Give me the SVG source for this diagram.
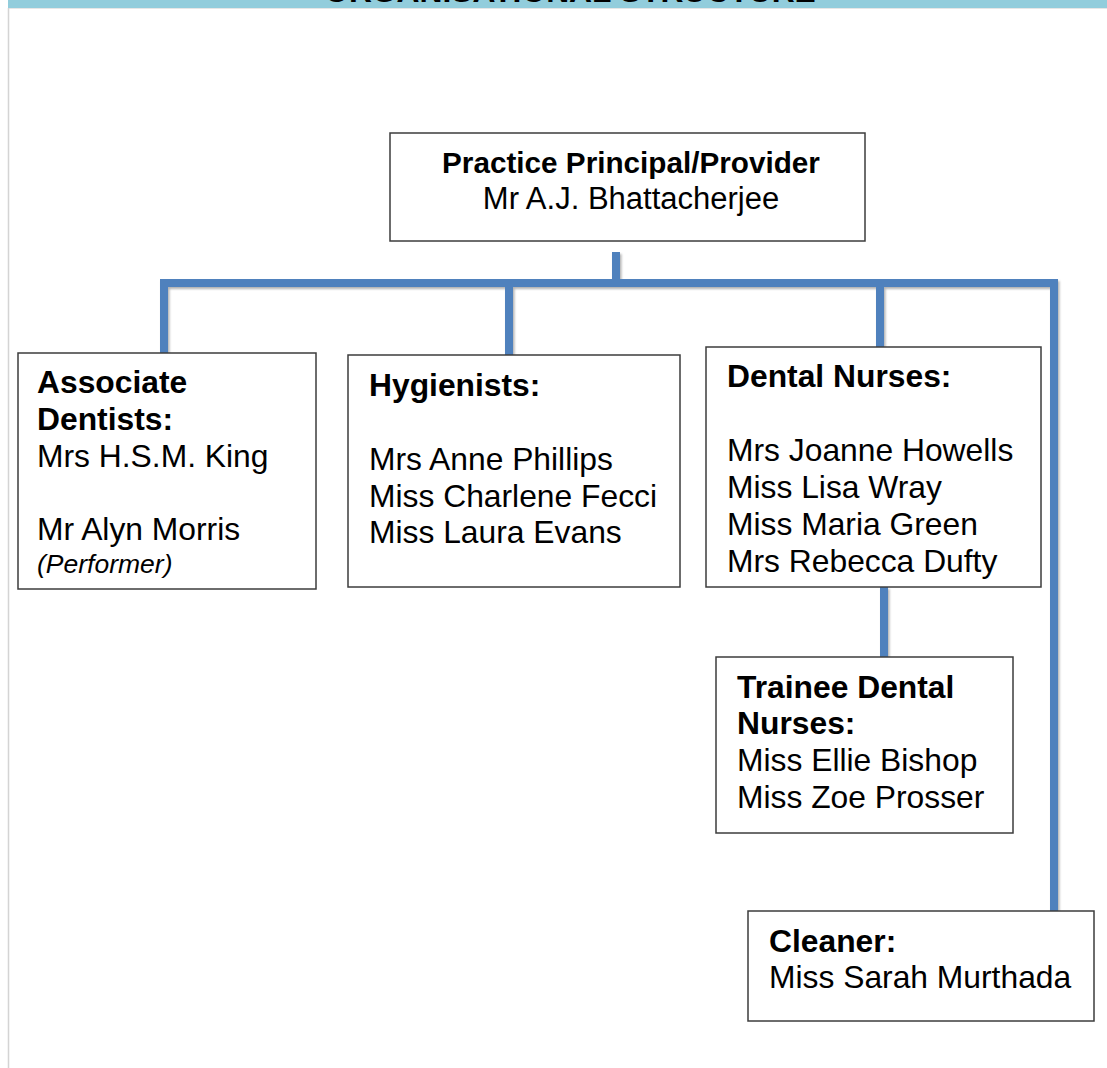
<svg xmlns="http://www.w3.org/2000/svg" width="1107" height="1068" viewBox="0 0 1107 1068">
<style>
text{font-family:"Liberation Sans",Arial,sans-serif;font-size:31.8px;fill:#000}
.b{font-weight:bold}
.i{font-style:italic;font-size:26.5px}
.tb{font-weight:bold;font-size:29.7px}
.tr{font-size:31px}
.box{fill:#fff;stroke:#3c3c3c;stroke-width:1.5}
.con{fill:none;stroke:#4f81bd;stroke-width:8;stroke-linecap:butt;stroke-linejoin:miter}
</style>
<defs>
<filter id="sh" x="-5%" y="-5%" width="110%" height="110%">
<feDropShadow dx="1.5" dy="2" stdDeviation="1.2" flood-color="#000" flood-opacity="0.3"/>
</filter>
</defs>
<rect x="0" y="0" width="1107" height="1068" fill="#fff"/>
<g id="banner">
<rect x="8" y="0" width="1099" height="8" fill="#92cddc"/>
<line x1="8" y1="8.5" x2="1107" y2="8.5" stroke="#e6e6e6" stroke-width="1"/>
<text x="570" y="2" class="b" text-anchor="middle">ORGANISATIONAL STRUCTURE</text>
</g>
<line x1="8.5" y1="8" x2="8.5" y2="1068" stroke="#d4d4d4" stroke-width="1.5"/>
<g id="connectors" filter="url(#sh)">
<path class="con" d="M616 252 V283"/>
<path class="con" d="M164 353 V283 H1054 V911"/>
<path class="con" d="M509 283 V355"/>
<path class="con" d="M880 283 V347"/>
<path class="con" d="M884 587 V657"/>
</g>
<g id="principal">
<rect class="box" x="390" y="133" width="475" height="108"/>
<text x="631" y="173" class="tb" text-anchor="middle">Practice Principal/Provider</text>
<text x="631" y="209" class="tr" text-anchor="middle">Mr A.J. Bhattacherjee</text>
</g>
<g id="associates">
<rect class="box" x="18" y="353" width="298" height="236"/>
<text x="37" y="393" class="b">Associate</text>
<text x="37" y="430" class="b">Dentists:</text>
<text x="37" y="467">Mrs H.S.M. King</text>
<text x="37" y="540">Mr Alyn Morris</text>
<text x="37" y="573" class="i">(Performer)</text>
</g>
<g id="hygienists">
<rect class="box" x="348" y="355" width="332" height="232"/>
<text x="369" y="396" class="b">Hygienists:</text>
<text x="369" y="470">Mrs Anne Phillips</text>
<text x="369" y="507">Miss Charlene Fecci</text>
<text x="369" y="543">Miss Laura Evans</text>
</g>
<g id="dental-nurses">
<rect class="box" x="706" y="347" width="335" height="240"/>
<text x="727" y="387" class="b">Dental Nurses:</text>
<text x="727" y="461">Mrs Joanne Howells</text>
<text x="727" y="498">Miss Lisa Wray</text>
<text x="727" y="535">Miss Maria Green</text>
<text x="727" y="572">Mrs Rebecca Dufty</text>
</g>
<g id="trainees">
<rect class="box" x="716" y="657" width="297" height="176"/>
<text x="737" y="698" class="b">Trainee Dental</text>
<text x="737" y="734" class="b">Nurses:</text>
<text x="737" y="771">Miss Ellie Bishop</text>
<text x="737" y="808">Miss Zoe Prosser</text>
</g>
<g id="cleaner">
<rect class="box" x="748" y="911" width="346" height="110"/>
<text x="769" y="952" class="b">Cleaner:</text>
<text x="769" y="988">Miss Sarah Murthada</text>
</g>
</svg>
